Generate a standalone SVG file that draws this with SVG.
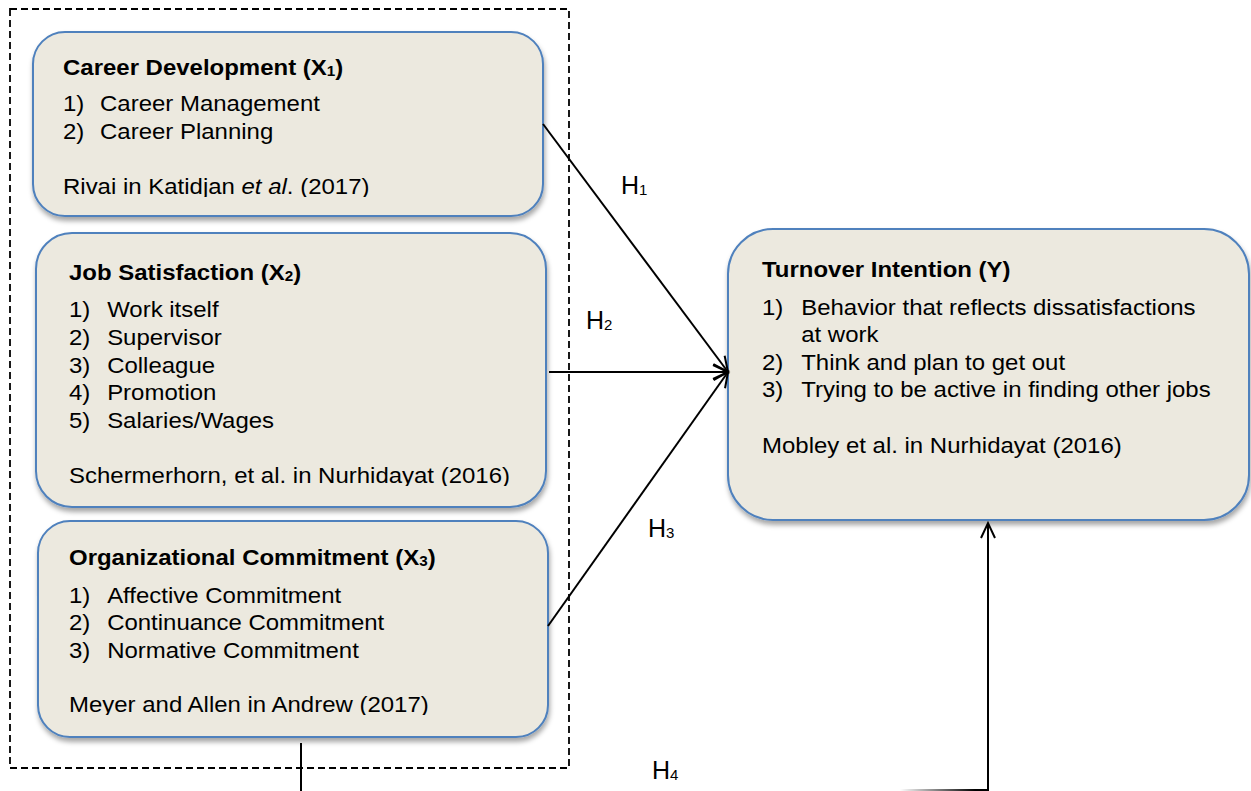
<svg xmlns="http://www.w3.org/2000/svg" width="1251" height="791" viewBox="0 0 1251 791">
<style>
.box{fill:#ECE9DF;stroke:#4F81BD;stroke-width:2;filter:url(#sh)}
text{font-family:"Liberation Sans",Arial,sans-serif;fill:#000}
.t{font-size:22px}
.b{font-weight:bold}
.sub{font-size:14px}
.h{font-size:25px}
.hs{font-size:15px}
.ln{fill:none;stroke:#000;stroke-width:2}
.dash{fill:none;stroke:#000;stroke-width:1.8;stroke-dasharray:7,4}
</style>
<defs>
<filter id="sh" x="-5%" y="-5%" width="110%" height="120%">
<feDropShadow dx="1" dy="4" stdDeviation="2.5" flood-color="#000" flood-opacity="0.35"/>
</filter>
<marker id="arr" markerUnits="userSpaceOnUse" markerWidth="20" markerHeight="20" refX="16" refY="8" orient="auto">
<path d="M1,1 L16,8 L1,15" fill="none" stroke="#000" stroke-width="2"/>
</marker>
<linearGradient id="fade" gradientUnits="userSpaceOnUse" x1="900" y1="0" x2="975" y2="0">
<stop offset="0" stop-color="#000" stop-opacity="0"/>
<stop offset="1" stop-color="#000" stop-opacity="1"/>
</linearGradient>
<clipPath id="c1"><rect x="0" y="0" width="1251" height="197"/></clipPath>
<clipPath id="c2"><rect x="0" y="0" width="1251" height="486"/></clipPath>
<clipPath id="c3"><rect x="0" y="0" width="1251" height="715"/></clipPath>
</defs>
<rect width="1251" height="791" fill="#fff"/>
<rect class="dash" x="10" y="9" width="559" height="759"/>
<g id="x1">
<rect class="box" x="33" y="32" width="510" height="184" rx="32"/>
<g transform="translate(63,0) scale(1.09,1)">
<text class="t b" x="0" y="75">Career Development (X<tspan class="sub" dy="1">1</tspan><tspan dy="-1">)</tspan></text>
<text class="t" x="0" y="111">1)</text><text class="t" x="34" y="111">Career Management</text>
<text class="t" x="0" y="139">2)</text><text class="t" x="34" y="139">Career Planning</text>
<text class="t" x="0" y="194" clip-path="url(#c1)">Rivai in Katidjan <tspan font-style="italic">et al</tspan>. (2017)</text>
</g>
</g>
<g id="x2">
<rect class="box" x="36" y="233" width="510" height="274" rx="36"/>
<g transform="translate(69,0) scale(1.09,1)">
<text class="t b" x="0" y="280">Job Satisfaction (X<tspan class="sub" dy="1">2</tspan><tspan dy="-1">)</tspan></text>
<text class="t" x="0" y="317">1)</text><text class="t" x="35" y="317">Work itself</text>
<text class="t" x="0" y="345">2)</text><text class="t" x="35" y="345">Supervisor</text>
<text class="t" x="0" y="373">3)</text><text class="t" x="35" y="373">Colleague</text>
<text class="t" x="0" y="400">4)</text><text class="t" x="35" y="400">Promotion</text>
<text class="t" x="0" y="428">5)</text><text class="t" x="35" y="428">Salaries/Wages</text>
<text class="t" x="0" y="483" clip-path="url(#c2)">Schermerhorn, et al. in Nurhidayat (2016)</text>
</g>
</g>
<g id="x3">
<rect class="box" x="38" y="521" width="510" height="216" rx="32"/>
<g transform="translate(69,0) scale(1.09,1)">
<text class="t b" x="0" y="565">Organizational Commitment (X<tspan class="sub" dy="1">3</tspan><tspan dy="-1">)</tspan></text>
<text class="t" x="0" y="603">1)</text><text class="t" x="35" y="603">Affective Commitment</text>
<text class="t" x="0" y="630">2)</text><text class="t" x="35" y="630">Continuance Commitment</text>
<text class="t" x="0" y="658">3)</text><text class="t" x="35" y="658">Normative Commitment</text>
<text class="t" x="0" y="712" clip-path="url(#c3)">Meyer and Allen in Andrew (2017)</text>
</g>
</g>
<g id="y">
<rect class="box" x="728" y="229" width="521" height="291" rx="45"/>
<g transform="translate(762,0) scale(1.09,1)">
<text class="t b" x="0" y="277">Turnover Intention (Y)</text>
<text class="t" x="0" y="315">1)</text><text class="t" x="36" y="315">Behavior that reflects dissatisfactions</text>
<text class="t" x="36" y="342">at work</text>
<text class="t" x="0" y="370">2)</text><text class="t" x="36" y="370">Think and plan to get out</text>
<text class="t" x="0" y="397">3)</text><text class="t" x="36" y="397">Trying to be active in finding other jobs</text>
<text class="t" x="0" y="453">Mobley et al. in Nurhidayat (2016)</text>
</g>
</g>
<g id="connectors">
<line class="ln" x1="543" y1="124" x2="728" y2="372" marker-end="url(#arr)"/>
<line class="ln" x1="549" y1="372" x2="728" y2="372" marker-end="url(#arr)"/>
<line class="ln" x1="548" y1="626" x2="728" y2="372" marker-end="url(#arr)"/>
<line class="ln" x1="301" y1="743" x2="301" y2="791"/>
<line x1="900" y1="790" x2="988" y2="790" stroke="url(#fade)" stroke-width="2"/>
<line class="ln" x1="988" y1="791" x2="988" y2="523" marker-end="url(#arr)"/>
</g>
<g id="labels">
<text class="h" x="621" y="194">H<tspan class="hs" dy="1">1</tspan></text>
<text class="h" x="586" y="329">H<tspan class="hs" dy="1">2</tspan></text>
<text class="h" x="648" y="537">H<tspan class="hs" dy="1">3</tspan></text>
<text class="h" x="652" y="779">H<tspan class="hs" dy="1">4</tspan></text>
</g>
</svg>
